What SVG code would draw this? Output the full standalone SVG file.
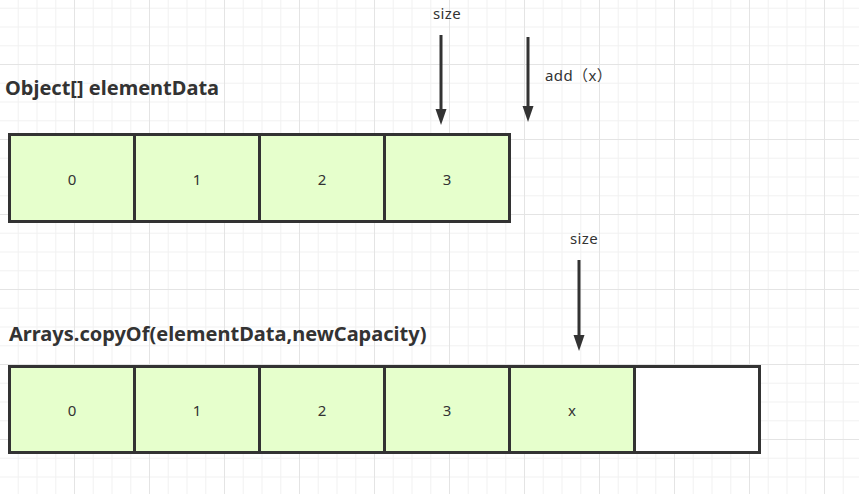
<svg xmlns="http://www.w3.org/2000/svg" width="859" height="494" viewBox="0 0 859 494">
<style>
.cell{fill:#e6ffcc;stroke:#333;stroke-width:3}
.empty{fill:#fff;stroke:#333;stroke-width:3}
.ct{font-family:"Noto Sans","Open Sans",sans-serif;font-size:15px;fill:#333;text-anchor:middle}
.title{font-family:"Noto Sans","Open Sans",sans-serif;font-size:20px;font-weight:bold;fill:#333}
.lbl{font-family:"Noto Sans","Noto Sans CJK SC",sans-serif;font-size:15px;letter-spacing:0.4px;fill:#333}
.arr{stroke:#333;stroke-width:3;fill:none}
</style>
<defs>
<pattern id="grid" patternUnits="userSpaceOnUse" width="75" height="75">
<rect width="75" height="75" fill="#fff"/>
<g fill="#f2f2f2">
<rect x="17.75" y="0" width="1" height="75"/>
<rect x="36.5" y="0" width="1" height="75"/>
<rect x="55.25" y="0" width="1" height="75"/>
<rect x="0" y="7.75" width="75" height="1"/>
<rect x="0" y="26.5" width="75" height="1"/>
<rect x="0" y="45.25" width="75" height="1"/>
</g>
<g fill="#e4e4e4">
<rect x="74" y="0" width="1" height="75"/>
<rect x="0" y="64" width="75" height="1"/>
</g>
</pattern>
<marker id="ah" markerUnits="userSpaceOnUse" markerWidth="17" markerHeight="12" refX="0" refY="6" orient="auto" viewBox="0 0 17 12">
<path d="M0,0.5 L16,6 L0,11.5 Z" fill="#333"/>
</marker>
</defs>
<rect width="859" height="494" fill="url(#grid)"/>

<g id="title-object">
<text class="title" x="5" y="95">Object[] elementData</text>
</g>
<g id="title-copy">
<text class="title" x="9" y="341">Arrays.copyOf(elementData,newCapacity)</text>
</g>

<g id="arr1-0"><rect class="cell" x="9.5" y="134.5" width="125" height="87"/><text class="ct" x="72" y="185">0</text></g>
<g id="arr1-1"><rect class="cell" x="134.5" y="134.5" width="125" height="87"/><text class="ct" x="197" y="185">1</text></g>
<g id="arr1-2"><rect class="cell" x="259.5" y="134.5" width="125" height="87"/><text class="ct" x="322" y="185">2</text></g>
<g id="arr1-3"><rect class="cell" x="384.5" y="134.5" width="125" height="87"/><text class="ct" x="447" y="185">3</text></g>

<g id="arr2-0"><rect class="cell" x="9.5" y="366.5" width="125" height="86"/><text class="ct" x="72" y="416">0</text></g>
<g id="arr2-1"><rect class="cell" x="134.5" y="366.5" width="125" height="86"/><text class="ct" x="197" y="416">1</text></g>
<g id="arr2-2"><rect class="cell" x="259.5" y="366.5" width="125" height="86"/><text class="ct" x="322" y="416">2</text></g>
<g id="arr2-3"><rect class="cell" x="384.5" y="366.5" width="125" height="86"/><text class="ct" x="447" y="416">3</text></g>
<g id="arr2-4"><rect class="cell" x="509.5" y="366.5" width="125" height="86"/><text class="ct" x="572" y="416">x</text></g>
<g id="arr2-5"><rect class="empty" x="634.5" y="366.5" width="125" height="86"/></g>

<g id="label-size1"><text class="lbl" x="447" y="19" text-anchor="middle">size</text></g>
<g id="label-add"><text class="lbl" x="545" y="81">add（x）</text></g>
<g id="label-size2"><text class="lbl" x="584" y="244" text-anchor="middle">size</text></g>

<g id="connectors">
<line class="arr" x1="441" y1="35" x2="441" y2="109" marker-end="url(#ah)"/>
<line class="arr" x1="528" y1="37" x2="528" y2="106" marker-end="url(#ah)"/>
<line class="arr" x1="579" y1="260" x2="579" y2="335" marker-end="url(#ah)"/>
</g>
</svg>
